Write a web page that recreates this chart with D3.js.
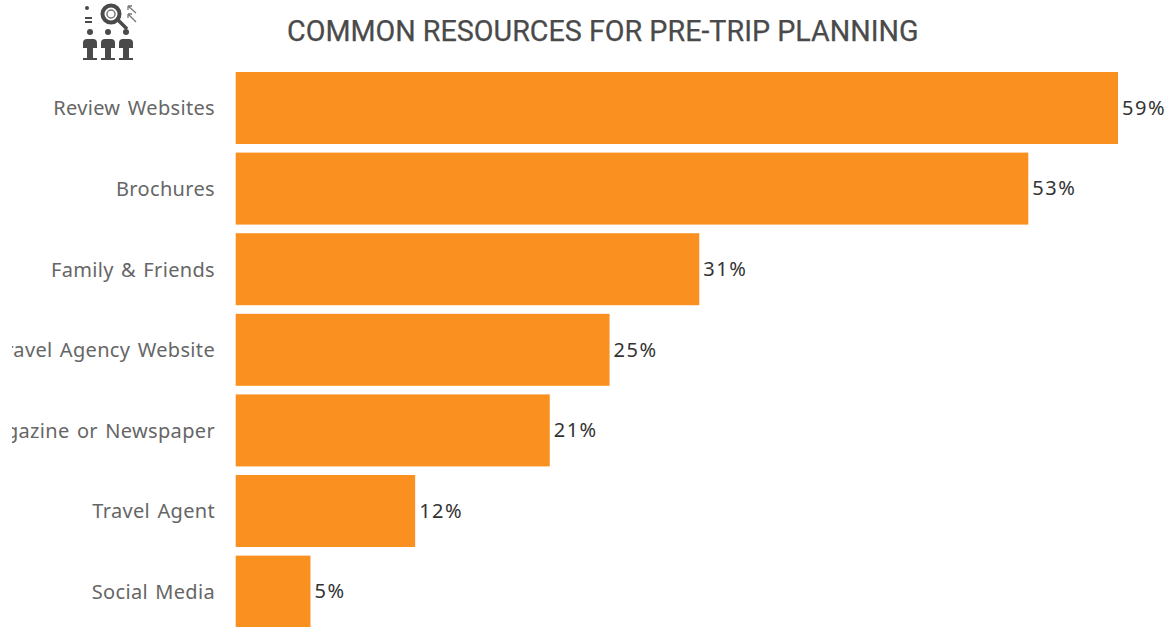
<!DOCTYPE html>
<html>
<head>
<meta charset="utf-8">
<script src="https://cdn.jsdelivr.net/npm/d3@7/dist/d3.min.js"></script>
<style>
html,body{margin:0;padding:0;background:#fff;overflow:hidden}
svg{display:block}
</style>
</head>
<body>
<svg id="chart" width="1170" height="627"></svg>
<script>
const categories = ["Review Websites","Brochures","Family & Friends","Travel Agency Website","Magazine or Newspaper","Travel Agent","Social Media"];
const shares = [59,53,31,25,21,12,5];
const titleText = "COMMON RESOURCES FOR PRE-TRIP PLANNING";

const svg = d3.select("#chart");
const x = d3.scaleLinear().domain([0,59]).range([235.7,1118]);
const y = d3.scaleBand().domain(categories).range([72,627.6]).paddingInner(0.107).paddingOuter(0);

svg.append("defs").append("clipPath").attr("id","labelClip")
  .append("rect").attr("x",12).attr("y",0).attr("width",224).attr("height",627);

svg.append("text")
  .attr("x",287).attr("y",40.5)
  .attr("font-family","Roboto").attr("font-weight",400).attr("font-size",28.7)
  .attr("stroke","#4a4a4a").attr("stroke-width",0.25)
  .attr("fill","#4a4a4a").text(titleText);

svg.selectAll("rect.bar").data(categories).join("rect")
  .attr("class","bar")
  .attr("x",x(0)).attr("y",d=>y(d))
  .attr("width",(d,i)=>x(shares[i])-x(0))
  .attr("height",y.bandwidth())
  .attr("fill","#f99020");

// Category axis: long names are cut off by the clipped label column
const axis = svg.append("g").attr("clip-path","url(#labelClip)")
  .append("g").attr("transform","translate(236,1)")
  .call(d3.axisLeft(y).tickSize(0).tickPadding(21));
axis.select(".domain").remove();
axis.selectAll("text")
  .attr("font-family","'Noto Sans'").attr("font-size",20)
  .attr("letter-spacing",0.33).attr("word-spacing",1.8)
  .attr("fill","#666");

svg.selectAll("text.value").data(categories).join("text")
  .attr("class","value")
  .attr("x",(d,i)=>x(shares[i])+4)
  .attr("y",d=>y(d)+y.bandwidth()/2)
  .attr("dy","0.34em")
  .attr("font-family","'Noto Sans'").attr("font-size",20)
  .attr("letter-spacing",1.5)
  .attr("fill","#333")
  .text((d,i)=>shares[i]+"%");

// Pictogram beside the title: three figures under a magnifying glass
const icon = svg.append("g").attr("fill","#4a4a4a").attr("stroke","none");
[90,108,126].forEach(cx=>{
  icon.append("circle").attr("cx",cx).attr("cy",32).attr("r",3);
  icon.append("path").attr("d",`M${cx-7} 48 V43 Q${cx-7} 39 ${cx-3} 39 H${cx+3} Q${cx+7} 39 ${cx+7} 43 V48 Z`);
  icon.append("rect").attr("x",cx-3).attr("y",48).attr("width",6).attr("height",10);
  icon.append("rect").attr("x",cx-7).attr("y",58).attr("width",14).attr("height",2);
});
icon.append("circle").attr("cx",87).attr("cy",8).attr("r",2);
icon.append("rect").attr("x",85).attr("y",17).attr("width",7).attr("height",2);
icon.append("rect").attr("x",85).attr("y",21).attr("width",7).attr("height",2);
icon.append("circle").attr("cx",111).attr("cy",14).attr("r",8.5)
  .attr("fill","none").attr("stroke","#4a4a4a").attr("stroke-width",4);
icon.append("circle").attr("cx",111).attr("cy",14).attr("r",4)
  .attr("fill","none").attr("stroke","#777").attr("stroke-width",1.5);
icon.append("line").attr("x1",118).attr("y1",20).attr("x2",127).attr("y2",29)
  .attr("stroke","#4a4a4a").attr("stroke-width",3.5);
[[128,6,136,13],[128,14,136,22]].forEach(([a,b,c,d])=>{
  icon.append("path").attr("d",`M${a} ${b} L${c} ${d} M${a} ${b} h4 M${a} ${b} v4`)
    .attr("fill","none").attr("stroke","#777").attr("stroke-width",1.3);
});
</script>
</body>
</html>
